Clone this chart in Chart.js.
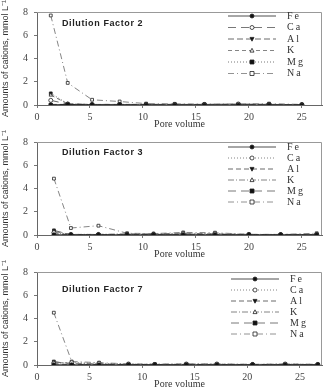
<!DOCTYPE html>
<html>
<head>
<meta charset="utf-8">
<script src="https://cdn.jsdelivr.net/npm/chart.js@4/dist/chart.umd.min.js"></script>
<style>
  body { margin: 0; background: #fff; }
  .panel { position: absolute; left: 0; width: 327px; height: 130px; }
</style>
</head>
<body>
<div class="panel" style="top:0px"><canvas id="c1"></canvas></div>
<div class="panel" style="top:130px"><canvas id="c2"></canvas></div>
<div class="panel" style="top:260px"><canvas id="c3"></canvas></div>
<script>
const cations = ['Fe', 'Ca', 'Al', 'K', 'Mg', 'Na'];
const yTicks = [0, 1, 2, 3, 4, 5, 6, 7, 8];
const xTicks = [0, 5, 10, 15, 20, 25];

// Dilution factor 2
const df2Pore = [1.3, 2.9, 5.2, 7.8, 10.3, 13.0, 15.8, 19.0, 21.9, 25.0];
const df2Fe = [0.02, 0.05, 0.02, 0.02, 0.01, 0.01, 0.01, 0.01, 0.01, 0.01];
const df2Ca = [0.4, 0.08, 0.05, 0.05, 0.05, 0.05, 0.05, 0.08, 0.05, 0.03];
const df2Al = [0.05, 0.05, 0.02, 0.02, 0.02, 0.02, 0.02, 0.02, 0.02, 0.02];
const df2K  = [0.85, 0.1, 0.05, 0.05, 0.05, 0.05, 0.05, 0.05, 0.05, 0.03];
const df2Mg = [1.0, 0.1, 0.03, 0.05, 0.03, 0.02, 0.02, 0.02, 0.05, 0.02];
const df2Na = [7.7, 1.9, 0.45, 0.3, 0.12, 0.1, 0.08, 0.1, 0.12, 0.05];

// Dilution factor 3
const df3Pore = [1.6, 3.2, 5.8, 8.5, 11.0, 13.8, 16.8, 20.0, 23.0, 26.4];
const df3Fe = [0.02, 0.02, 0.02, 0.02, 0.02, 0.02, 0.02, 0.02, 0.02, 0.02];
const df3Ca = [0.2, 0.05, 0.05, 0.05, 0.05, 0.1, 0.1, 0.05, 0.03, 0.05];
const df3Al = [0.1, 0.03, 0.03, 0.03, 0.03, 0.03, 0.03, 0.03, 0.03, 0.03];
const df3K  = [0.3, 0.05, 0.05, 0.1, 0.1, 0.15, 0.1, 0.05, 0.05, 0.05];
const df3Mg = [0.4, 0.02, 0.02, 0.02, 0.02, 0.05, 0.05, 0.02, 0.02, 0.02];
const df3Na = [4.85, 0.6, 0.8, 0.15, 0.12, 0.22, 0.2, 0.05, 0.05, 0.15];

// Dilution factor 7
const df7Pore = [1.6, 3.3, 5.9, 8.7, 11.2, 14.2, 17.1, 20.5, 23.6, 26.7];
const df7Fe = [0.02, 0.02, 0.02, 0.02, 0.02, 0.02, 0.02, 0.02, 0.02, 0.02];
const df7Ca = [0.15, 0.2, 0.15, 0.08, 0.05, 0.08, 0.08, 0.05, 0.08, 0.05];
const df7Al = [0.1, 0.03, 0.03, 0.03, 0.03, 0.03, 0.03, 0.03, 0.03, 0.03];
const df7K  = [0.25, 0.15, 0.1, 0.05, 0.05, 0.05, 0.05, 0.05, 0.05, 0.05];
const df7Mg = [0.3, 0.05, 0.05, 0.03, 0.03, 0.03, 0.03, 0.03, 0.03, 0.03];
const df7Na = [4.5, 0.3, 0.2, 0.1, 0.08, 0.1, 0.1, 0.05, 0.1, 0.05];

// line / marker look per cation, for the top panel and for the other two
const stylesA = [
  { dash: [], point: 'circle', fill: true, rot: 0, color: '#222' },
  { dash: [8, 5], point: 'circle', fill: false, rot: 0, color: '#555' },
  { dash: [6, 3], point: 'triangle', fill: true, rot: 180, color: '#444' },
  { dash: [4, 3], point: 'triangle', fill: false, rot: 0, color: '#666' },
  { dash: [1, 2], point: 'rect', fill: true, rot: 0, color: '#555' },
  { dash: [6, 3, 1, 3], point: 'rect', fill: false, rot: 0, color: '#777' }
];
const stylesB = [
  { dash: [], point: 'circle', fill: true, rot: 0, color: '#222' },
  { dash: [1, 2], point: 'circle', fill: false, rot: 0, color: '#666' },
  { dash: [5, 3], point: 'triangle', fill: true, rot: 180, color: '#444' },
  { dash: [6, 2, 1, 2], point: 'triangle', fill: false, rot: 0, color: '#666' },
  { dash: [8, 5], point: 'rect', fill: true, rot: 0, color: '#555' },
  { dash: [6, 3, 1, 3], point: 'rect', fill: false, rot: 0, color: '#777' }
];

function drawMarker(ctx, st, x, y) {
  ctx.save();
  ctx.setLineDash([]);
  ctx.lineWidth = 0.8;
  ctx.strokeStyle = '#222';
  ctx.fillStyle = st.fill ? '#111' : '#fff';
  ctx.beginPath();
  const r = 2;
  if (st.point === 'circle') {
    ctx.arc(x, y, r, 0, Math.PI * 2);
  } else if (st.point === 'rect') {
    ctx.rect(x - r, y - r, 2 * r, 2 * r);
  } else {
    const s = st.rot ? -1 : 1;
    ctx.moveTo(x, y - s * r * 1.1);
    ctx.lineTo(x + r, y + s * r * 0.8);
    ctx.lineTo(x - r, y + s * r * 0.8);
    ctx.closePath();
  }
  ctx.fill();
  ctx.stroke();
  ctx.restore();
}

const panelDeco = {
  id: 'panelDeco',
  afterDraw(chart) {
    const o = chart.options.plugins.panelDeco;
    const ctx = chart.ctx;
    const a = chart.chartArea;
    ctx.save();
    // frame round the plot
    ctx.strokeStyle = '#999';
    ctx.lineWidth = 1;
    ctx.beginPath();
    ctx.moveTo(a.left, a.top + 0.5);
    ctx.lineTo(a.right - 0.5, a.top + 0.5);
    ctx.lineTo(a.right - 0.5, a.bottom);
    ctx.stroke();
    // panel title
    ctx.fillStyle = '#222';
    ctx.font = 'bold 9px "Liberation Sans", Arial, sans-serif';
    ctx.letterSpacing = '0.6px';
    ctx.textBaseline = 'middle';
    ctx.fillText(o.title, 62, o.titleY);
    // legend
    ctx.font = '10px "Liberation Serif", "Times New Roman", serif';
    ctx.letterSpacing = '2px';
    chart.data.datasets.forEach((ds, i) => {
      const st = o.styles[i];
      const y = o.legY + i * o.legStep;
      ctx.save();
      ctx.strokeStyle = st.color;
      ctx.lineWidth = 0.8;
      ctx.setLineDash(st.dash);
      ctx.beginPath();
      ctx.moveTo(o.legX, y);
      ctx.lineTo(o.legX + 48, y);
      ctx.stroke();
      ctx.restore();
      drawMarker(ctx, st, o.legX + 24, y);
      ctx.fillStyle = '#333';
      ctx.fillText(ds.label, o.legX + 59, y);
    });
    ctx.restore();
  }
};

function makePanel(id, title, pore, values, styles, xMax, deco) {
  const datasets = cations.map((name, i) => {
    const st = styles[i];
    return {
      label: name,
      data: pore.map((p, j) => ({ x: p, y: values[i][j] })),
      borderColor: st.color,
      borderWidth: 0.9,
      borderDash: st.dash,
      pointStyle: st.point,
      pointRotation: st.rot,
      pointRadius: 2,
      pointBackgroundColor: st.fill ? '#111' : '#fff',
      pointBorderColor: '#222',
      pointBorderWidth: 0.8,
      tension: 0
    };
  });
  return new Chart(document.getElementById(id), {
    type: 'line',
    data: { datasets: datasets },
    plugins: [panelDeco],
    options: {
      responsive: true,
      maintainAspectRatio: false,
      animation: false,
      layout: { padding: { top: 5, right: 5, left: 0, bottom: 0 } },
      plugins: {
        legend: { display: false },
        tooltip: { enabled: false },
        panelDeco: Object.assign({ title: title, styles: styles }, deco)
      },
      scales: {
        x: {
          type: 'linear',
          min: 0,
          max: xMax,
          afterBuildTicks: s => { s.ticks = xTicks.map(v => ({ value: v })); },
          afterFit: s => { s.height = 25; },
          grid: { drawOnChartArea: false, tickLength: 3, color: '#777' },
          border: { color: '#666' },
          ticks: {
            padding: 3,
            color: '#444',
            font: { family: '"Liberation Serif", "Times New Roman", serif', size: 10 }
          },
          title: {
            display: true,
            text: 'Pore volume',
            color: '#333',
            padding: { top: 5, bottom: 0 },
            font: { family: '"Liberation Serif", "Times New Roman", serif', size: 10 }
          }
        },
        y: {
          min: 0,
          max: 8,
          afterBuildTicks: s => { s.ticks = yTicks.map(v => ({ value: v })); },
          afterFit: s => { s.width = 37; },
          grid: { drawOnChartArea: false, tickLength: 3, color: '#777' },
          border: { color: '#666' },
          ticks: {
            padding: 6,
            color: '#444',
            font: { family: '"Liberation Serif", "Times New Roman", serif', size: 10 }
          },
          title: {
            display: true,
            text: 'Amounts of cations, mmol L\u207B\u00B9',
            color: '#333',
            padding: 0,
            font: { family: '"Liberation Sans", Arial, sans-serif', size: 9 }
          }
        }
      }
    }
  });
}

makePanel('c1', 'Dilution Factor 2', df2Pore,
  [df2Fe, df2Ca, df2Al, df2K, df2Mg, df2Na], stylesA, 26.9,
  { titleY: 24, legX: 228, legY: 16, legStep: 11.5 });
makePanel('c2', 'Dilution Factor 3', df3Pore,
  [df3Fe, df3Ca, df3Al, df3K, df3Mg, df3Na], stylesB, 26.9,
  { titleY: 23, legX: 228, legY: 17, legStep: 11 });
makePanel('c3', 'Dilution Factor 7', df7Pore,
  [df7Fe, df7Ca, df7Al, df7K, df7Mg, df7Na], stylesB, 27.1,
  { titleY: 30, legX: 231, legY: 19, legStep: 11 });
</script>
</body>
</html>
